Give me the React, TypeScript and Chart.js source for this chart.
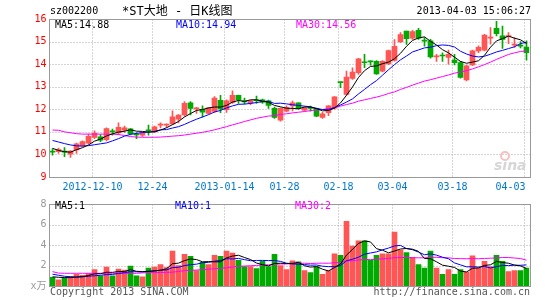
import React, { useEffect, useRef } from 'react';
import { Chart, registerables } from 'chart.js';

Chart.register(...registerables);

const dates: string[] = [
  '2012-11-29','2012-11-30','2012-12-03','2012-12-04','2012-12-05','2012-12-06','2012-12-07','2012-12-10','2012-12-11','2012-12-12',
  '2012-12-13','2012-12-14','2012-12-17','2012-12-18','2012-12-19','2012-12-20','2012-12-21','2012-12-24','2012-12-25','2012-12-26',
  '2012-12-27','2012-12-28','2012-12-31','2013-01-04','2013-01-07','2013-01-08','2013-01-09','2013-01-10','2013-01-11','2013-01-14',
  '2013-01-15','2013-01-16','2013-01-17','2013-01-18','2013-01-21','2013-01-22','2013-01-23','2013-01-24','2013-01-25','2013-01-28',
  '2013-01-29','2013-01-30','2013-01-31','2013-02-01','2013-02-04','2013-02-05','2013-02-06','2013-02-07','2013-02-18','2013-02-19',
  '2013-02-20','2013-02-21','2013-02-22','2013-02-25','2013-02-26','2013-02-27','2013-02-28','2013-03-04','2013-03-05','2013-03-06',
  '2013-03-07','2013-03-08','2013-03-11','2013-03-12','2013-03-13','2013-03-14','2013-03-15','2013-03-18','2013-03-19','2013-03-20',
  '2013-03-21','2013-03-22','2013-03-25','2013-03-26','2013-03-27','2013-03-28','2013-03-29','2013-04-01','2013-04-02','2013-04-03',
];

const tickDates = ['2012-12-10','2012-12-24','2013-01-14','2013-01-28','2013-02-18','2013-03-04','2013-03-18','2013-04-03'];
const tickTexts = ['2012-12-10','12-24','2013-01-14','01-28','02-18','03-04','03-18','04-03'];

const openPrices = [
  10.12,10.12,10.14,10.01,10.20,10.38,10.50,10.75,10.78,10.65,
  11.03,10.95,11.08,11.13,10.88,10.85,11.08,11.00,11.30,11.30,
  11.35,11.56,11.75,12.29,12.02,12.00,11.82,11.90,12.40,11.98,
  12.30,12.62,12.35,12.27,12.39,12.42,12.38,12.04,11.52,11.92,
  12.15,12.29,11.96,12.05,12.04,11.64,11.85,12.05,13.20,12.66,
  13.37,13.62,14.08,14.12,14.13,13.69,14.01,14.16,14.99,15.46,
  15.15,15.50,15.04,15.03,14.32,14.38,14.30,14.18,14.07,13.30,
  13.97,14.59,14.62,15.15,15.59,15.25,15.22,14.84,14.84,14.76,
];
const highPrices = [
  10.25,10.28,10.30,10.17,10.50,10.60,10.90,11.05,10.88,11.18,
  11.12,11.40,11.26,11.15,10.97,10.98,11.30,11.26,11.40,11.36,
  11.93,11.76,12.34,12.34,12.09,12.15,12.08,12.56,12.62,12.42,
  12.82,12.63,12.50,12.40,12.58,12.45,12.41,12.10,12.07,12.15,
  12.36,12.29,12.10,12.14,12.05,11.86,12.16,12.56,13.20,13.69,
  13.84,14.26,14.43,14.15,14.16,14.16,14.62,15.09,15.40,15.46,
  15.50,15.59,15.18,15.10,14.44,14.50,14.62,14.44,14.12,13.96,
  14.62,14.81,15.32,15.62,15.90,15.69,15.40,15.18,15.00,15.03,
];
const lowPrices = [
  9.97,10.05,9.90,9.87,10.05,10.35,10.46,10.70,10.57,10.60,
  10.85,10.88,10.97,10.86,10.70,10.80,10.85,10.96,11.17,11.20,
  11.32,11.40,11.70,11.75,11.82,11.65,11.80,11.86,11.85,11.86,
  12.26,12.26,12.24,12.20,12.26,12.26,12.04,11.60,11.47,11.88,
  11.93,12.00,11.92,11.92,11.67,11.60,11.72,12.00,12.96,12.63,
  13.32,13.55,13.84,13.95,13.54,13.65,13.98,14.13,14.96,14.87,
  15.10,15.10,14.80,14.26,14.12,14.12,14.00,13.97,13.38,13.26,
  13.93,14.51,14.59,14.88,15.25,14.70,14.91,14.74,14.72,14.18,
];
const closePrices = [
  10.10,10.22,10.10,10.15,10.47,10.57,10.80,10.95,10.63,11.15,
  11.00,11.20,11.18,10.92,10.86,10.96,11.05,11.22,11.33,11.32,
  11.67,11.74,12.26,12.04,12.05,11.87,12.06,12.50,12.02,12.38,
  12.62,12.42,12.33,12.37,12.38,12.31,12.17,11.64,12.04,12.08,
  12.29,12.04,12.06,12.04,11.70,11.80,12.15,12.55,13.18,13.43,
  13.65,14.24,14.06,14.10,13.57,14.13,14.60,14.79,15.31,15.13,
  15.44,15.15,15.02,14.32,14.34,14.36,14.44,14.07,13.41,13.93,
  14.59,14.74,15.29,15.18,15.35,15.10,15.27,14.87,14.80,14.51,
];

const ma5 = [
  10.27,10.18,10.12,10.10,10.21,10.30,10.42,10.59,10.68,10.82,
  10.91,10.99,11.03,11.09,11.03,11.02,10.99,11.00,11.08,11.18,
  11.32,11.46,11.66,11.81,11.95,11.99,12.06,12.10,12.10,12.17,
  12.32,12.39,12.35,12.42,12.42,12.36,12.31,12.17,12.11,12.05,
  12.04,12.02,12.10,12.10,12.03,11.93,11.95,12.05,12.28,12.62,
  12.99,13.41,13.71,13.90,13.92,14.02,14.09,14.24,14.48,14.79,
  15.05,15.16,15.21,15.01,14.85,14.64,14.50,14.31,14.12,14.04,
  14.09,14.15,14.39,14.75,15.03,15.13,15.24,15.15,15.08,14.91,
];
const ma10 = [
  10.62,10.55,10.48,10.42,10.38,10.37,10.39,10.43,10.47,10.51,
  10.60,10.70,10.81,10.89,10.93,10.97,10.99,11.02,11.09,11.10,
  11.17,11.23,11.33,11.45,11.56,11.66,11.76,11.88,11.95,12.06,
  12.15,12.22,12.23,12.26,12.30,12.34,12.35,12.26,12.27,12.24,
  12.20,12.17,12.14,12.11,12.04,11.99,11.98,12.08,12.19,12.32,
  12.46,12.68,12.88,13.09,13.27,13.51,13.75,13.98,14.19,14.36,
  14.54,14.63,14.72,14.75,14.82,14.85,14.83,14.76,14.57,14.45,
  14.36,14.32,14.35,14.44,14.54,14.61,14.69,14.77,14.91,14.97,
];
const ma30 = [
  11.08,11.07,11.00,10.96,10.92,10.90,10.90,10.90,10.90,10.90,
  10.90,10.88,10.84,10.79,10.77,10.76,10.76,10.76,10.77,10.79,
  10.81,10.83,10.86,10.90,10.94,10.98,11.03,11.09,11.16,11.23,
  11.31,11.38,11.46,11.53,11.60,11.65,11.70,11.72,11.77,11.80,
  11.84,11.87,11.90,11.94,11.97,11.99,12.03,12.07,12.14,12.21,
  12.27,12.36,12.42,12.48,12.54,12.61,12.70,12.77,12.88,12.97,
  13.07,13.16,13.25,13.31,13.38,13.45,13.52,13.60,13.65,13.71,
  13.79,13.88,13.98,14.09,14.21,14.32,14.43,14.50,14.56,14.59,
];

const volumes = [
  0.85,0.60,0.80,0.95,1.15,1.05,1.20,1.60,1.00,1.85,
  1.00,1.65,1.55,1.95,1.00,0.90,1.75,1.85,2.10,1.80,
  3.40,2.00,3.10,2.90,1.50,2.30,2.10,3.00,2.90,3.40,
  3.20,2.50,1.90,1.90,1.70,2.40,1.90,3.10,2.00,1.60,
  2.45,2.35,1.50,1.30,1.90,1.15,1.50,3.15,3.00,6.30,
  3.90,4.40,4.40,2.50,3.00,3.15,3.15,5.25,3.50,3.25,
  2.80,2.10,1.75,3.40,1.75,1.15,1.60,1.15,1.60,1.35,
  2.95,1.75,2.40,1.90,3.00,2.40,1.40,1.50,1.50,1.75,
];
const volMa5 = [
  0.90,0.85,0.82,0.82,0.87,0.91,1.03,1.19,1.20,1.34,
  1.33,1.42,1.41,1.60,1.43,1.41,1.43,1.49,1.52,1.68,
  2.18,2.23,2.48,2.64,2.58,2.36,2.38,2.36,2.36,2.74,
  2.92,3.00,2.78,2.58,2.24,2.08,1.96,2.20,2.22,2.20,
  2.21,2.30,1.98,1.84,1.90,1.64,1.47,1.80,2.14,3.02,
  3.57,4.15,4.40,4.30,3.64,3.49,3.24,3.41,3.61,3.66,
  3.59,3.38,2.68,2.66,2.36,2.03,1.93,1.81,1.45,1.37,
  1.73,1.76,2.01,2.07,2.40,2.29,2.22,2.04,1.96,1.71,
];
const volMa10 = [
  1.15,1.05,0.95,0.90,0.88,0.90,0.95,1.00,1.05,1.11,
  1.12,1.23,1.30,1.40,1.39,1.37,1.43,1.45,1.56,1.56,
  1.80,1.83,1.99,2.08,2.13,2.27,2.31,2.42,2.50,2.66,
  2.64,2.69,2.57,2.47,2.49,2.50,2.48,2.49,2.40,2.22,
  2.15,2.13,2.09,2.03,2.05,1.93,1.89,1.89,1.99,2.46,
  2.61,2.81,3.10,3.22,3.33,3.53,3.70,3.91,3.96,3.65,
  3.54,3.31,3.05,3.14,3.01,2.81,2.66,2.25,2.06,1.87,
  1.88,1.85,1.91,1.76,1.89,2.01,1.99,2.03,2.02,2.06,
];
const volMa30 = [
  1.40,1.26,1.24,1.24,1.24,1.24,1.24,1.24,1.24,1.24,
  1.24,1.24,1.24,1.24,1.24,1.28,1.30,1.31,1.32,1.33,
  1.35,1.42,1.50,1.53,1.56,1.60,1.64,1.68,1.72,1.77,
  1.85,1.92,1.95,1.98,2.00,2.05,2.07,2.12,2.15,2.15,
  2.19,2.22,2.22,2.19,2.22,2.23,2.22,2.27,2.30,2.45,
  2.46,2.54,2.59,2.57,2.62,2.65,2.69,2.76,2.78,2.78,
  2.76,2.75,2.75,2.80,2.80,2.76,2.75,2.68,2.67,2.66,
  2.68,2.66,2.69,2.71,2.74,2.78,2.78,2.73,2.68,2.52,
];

const priceGridValues = [10, 11, 12, 13, 14, 15];
const volumeGridValues = [2, 4, 6];

const RED = '#ff5555';
const GREEN = '#00aa00';
const MONO = "'DejaVu Sans Mono', 'Noto Sans CJK SC', monospace";

const barColors = closePrices.map((c, i) => (c >= openPrices[i] ? RED : GREEN));
const tickIndex = tickDates.map((d) => dates.indexOf(d));

const FRAME_LEFT = 49.5;
const FRAME_RIGHT = 530.5;

function makeGridPlugin(hValues: number[], labelY: number | null) {
  return {
    id: 'sinaGrid',
    beforeDatasetsDraw(chart: any) {
      const { ctx, chartArea: a, scales } = chart;
      const x = scales.x;
      const y = scales.y;
      const top = Math.round(a.top) + 0.5;
      const bottom = Math.round(a.bottom) + 0.5;
      ctx.save();
      ctx.strokeStyle = '#aaaaaa';
      ctx.lineWidth = 1;
      ctx.setLineDash([1, 2]);
      ctx.beginPath();
      hValues.forEach((v) => {
        const py = Math.round(y.getPixelForValue(v)) + 0.5;
        ctx.moveTo(FRAME_LEFT, py);
        ctx.lineTo(FRAME_RIGHT, py);
      });
      tickIndex.forEach((i) => {
        const px = Math.floor(x.getPixelForValue(i) - 2) + 0.5;
        ctx.moveTo(px, top);
        ctx.lineTo(px, bottom);
      });
      ctx.stroke();
      ctx.restore();
    },
    afterDraw(chart: any) {
      const { ctx, chartArea: a, scales } = chart;
      const x = scales.x;
      const top = Math.round(a.top) + 0.5;
      const bottom = Math.round(a.bottom) + 0.5;
      ctx.save();
      ctx.strokeStyle = '#999999';
      ctx.lineWidth = 1;
      ctx.setLineDash([]);
      ctx.strokeRect(FRAME_LEFT, top, FRAME_RIGHT - FRAME_LEFT, bottom - top);
      if (labelY !== null) {
        ctx.font = `10px ${MONO}`;
        ctx.fillStyle = '#0077cc';
        ctx.textBaseline = 'middle';
        tickIndex.forEach((i, k) => {
          const px = Math.floor(x.getPixelForValue(i) - 2) + 0.5;
          const text = tickTexts[k];
          const w = ctx.measureText(text).width;
          if (px + w / 2 > FRAME_RIGHT) {
            ctx.textAlign = 'right';
            ctx.fillText(text, px + 1, labelY);
          } else {
            ctx.textAlign = 'center';
            ctx.fillText(text, px, labelY);
          }
        });
      }
      ctx.restore();
    },
  };
}

function lineDs(data: number[], color: string) {
  return {
    type: 'line' as const,
    data,
    borderColor: color,
    borderWidth: 1,
    pointRadius: 0,
    pointHoverRadius: 0,
    tension: 0,
    fill: false,
    order: 0,
  };
}

function makePriceChart(canvas: HTMLCanvasElement) {
  return new Chart(canvas, {
    type: 'bar',
    data: {
      labels: dates,
      datasets: [
        lineDs(ma5, '#000000'),
        lineDs(ma10, '#0000ff'),
        lineDs(ma30, '#ff00ff'),
        {
          type: 'bar',
          data: openPrices.map((o, i) => [o, closePrices[i]]),
          backgroundColor: barColors,
          barThickness: 5,
          minBarLength: 1,
          grouped: false,
          order: 1,
        } as any,
        {
          type: 'bar',
          data: lowPrices.map((l, i) => [l, highPrices[i]]),
          backgroundColor: barColors,
          barThickness: 1,
          grouped: false,
          order: 2,
        } as any,
      ],
    },
    options: {
      responsive: false,
      animation: false,
      events: [],
      layout: { padding: { top: 19, right: 15.5, left: 0, bottom: 0 } },
      plugins: { legend: { display: false }, tooltip: { enabled: false } },
      scales: {
        x: {
          offset: true,
          grid: { display: false, drawTicks: false },
          border: { display: false },
          ticks: { display: false },
          afterFit: (s: any) => { s.height = 18; },
        },
        y: {
          min: 9,
          max: 16,
          grid: { display: false, drawTicks: false },
          border: { display: false },
          ticks: { stepSize: 1, color: '#ff0000', font: { family: MONO, size: 10 }, padding: 3 },
          afterFit: (s: any) => { s.width = 49.5; },
        },
      },
    } as any,
    plugins: [makeGridPlugin(priceGridValues, 187)],
  });
}

function makeVolumeChart(canvas: HTMLCanvasElement) {
  return new Chart(canvas, {
    type: 'bar',
    data: {
      labels: dates,
      datasets: [
        lineDs(volMa5, '#000000'),
        lineDs(volMa10, '#0000ff'),
        lineDs(volMa30, '#ff00ff'),
        {
          type: 'bar',
          data: volumes,
          backgroundColor: barColors,
          barThickness: 5,
          grouped: false,
          order: 1,
        } as any,
      ],
    },
    options: {
      responsive: false,
      animation: false,
      events: [],
      layout: { padding: { top: 7, right: 15.5, left: 0, bottom: 0 } },
      plugins: { legend: { display: false }, tooltip: { enabled: false } },
      scales: {
        x: {
          offset: true,
          grid: { display: false, drawTicks: false },
          border: { display: false },
          ticks: { display: false },
          afterFit: (s: any) => { s.height = 14; },
        },
        y: {
          min: 0,
          max: 8,
          grid: { display: false, drawTicks: false },
          border: { display: false },
          ticks: {
            stepSize: 2,
            color: '#999999',
            font: { family: MONO, size: 10 },
            padding: 3,
            callback: (v: any) => (Number(v) === 0 ? 'x万' : String(v)),
          },
          afterFit: (s: any) => { s.width = 49.5; },
        },
      },
    } as any,
    plugins: [makeGridPlugin(volumeGridValues, null)],
  });
}

function Txt(props: { x?: number; right?: number; y: number; color: string; size?: number; children: React.ReactNode; family?: string }) {
  const size = props.size ?? 10;
  const lh = size + 2;
  const style: React.CSSProperties = {
    position: 'absolute',
    top: props.y - lh / 2,
    fontFamily: props.family ?? MONO,
    fontSize: size,
    lineHeight: `${lh}px`,
    color: props.color,
    whiteSpace: 'pre',
  };
  if (props.right !== undefined) style.right = props.right;
  else style.left = props.x;
  return <div style={style}>{props.children}</div>;
}

export default function App() {
  const priceRef = useRef<HTMLCanvasElement>(null);
  const volRef = useRef<HTMLCanvasElement>(null);

  useEffect(() => {
    document.body.style.margin = '0';
    const c1 = makePriceChart(priceRef.current!);
    const c2 = makeVolumeChart(volRef.current!);
    return () => {
      c1.destroy();
      c2.destroy();
    };
  }, []);

  return (
    <div style={{ position: 'absolute', left: 0, top: 0, width: 545, height: 300, background: '#ffffff', overflow: 'hidden' }}>
      <canvas ref={priceRef} width={545} height={195} style={{ position: 'absolute', left: 0, top: 0, width: 545, height: 195 }} />
      <canvas ref={volRef} width={545} height={105} style={{ position: 'absolute', left: 0, top: 195, width: 545, height: 105 }} />

      <Txt x={50} y={11} color="#000000">sz002200</Txt>
      <Txt x={122} y={11} color="#000000" size={12}>*ST大地 - 日K线图</Txt>
      <Txt right={14} y={11} color="#000000">2013-04-03 15:06:27</Txt>

      <Txt x={55} y={25} color="#000000">MA5:14.88</Txt>
      <Txt x={176} y={25} color="#0000ff">MA10:14.94</Txt>
      <Txt x={296} y={25} color="#ff00ff">MA30:14.56</Txt>

      <div style={{ position: 'absolute', left: 500, top: 151, width: 10, height: 10, borderRadius: 6, border: '2px solid #f4c0c0', boxSizing: 'border-box' }} />
      <div style={{ position: 'absolute', left: 494, top: 158, fontFamily: "'DejaVu Sans', sans-serif", fontStyle: 'italic', fontWeight: 'bold', fontSize: 14, lineHeight: '14px', color: '#d6d6d6' }}>sina</div>

      <Txt x={55} y={206} color="#000000">MA5:1</Txt>
      <Txt x={175} y={206} color="#0000ff">MA10:1</Txt>
      <Txt x={295} y={206} color="#ff00ff">MA30:2</Txt>

      <Txt x={50} y={292} color="#555555">Copyright 2013 SINA.COM</Txt>
      <Txt right={15} y={292} color="#555555">http://finance.sina.com.cn</Txt>
    </div>
  );
}
